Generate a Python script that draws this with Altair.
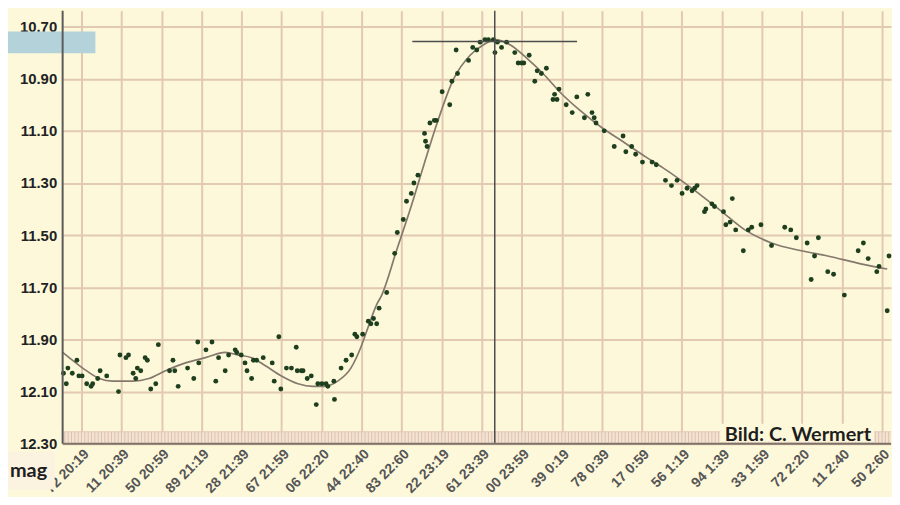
import json
import altair as alt
import pandas as pd

# ---------------- data ----------------
time_labels = ["72 20:19", "11 20:39", "50 20:59", "89 21:19", "28 21:39", "67 21:59",
               "06 22:20", "44 22:40", "83 22:60", "22 23:19", "61 23:39", "00 23:59",
               "39 0:19", "78 0:39", "17 0:59", "56 1:19", "94 1:39", "33 1:59",
               "72 2:20", "11 2:40", "50 2:60"]
tick_minutes = [i * 20 for i in range(len(time_labels))]
mag_ticks = [10.70, 10.90, 11.10, 11.30, 11.50, 11.70, 11.90, 12.10, 12.30]

# observations: minutes after the 20:19 grid line, magnitude
pt_t = [-9.0, -7.6, -6.8, -4.6, -2.3, -1.3, 0.3, 2.6, 4.8, 5.6,
        8.1, 9.3, 12.6, 18.5, 19.2, 22.2, 23.5, 25.8, 27.1, 27.9,
        29.6, 31.8, 32.9, 34.6, 37.1, 38.4, 44.0, 45.7, 46.6, 48.3,
        53.0, 56.1, 58.1, 58.6, 62.2, 65.2, 67.1, 68.5, 71.8, 73.5,
        76.8, 77.6, 79.8, 81.7, 82.7, 85.0, 85.9, 87.5, 90.8, 95.3,
        96.3, 98.6, 99.6, 102.4, 104.9, 107.3, 107.8, 109.8, 110.7, 112.8,
        114.8, 117.3, 118.1, 120.1, 122.2, 123.1, 126.1, 126.4, 129.7, 132.2,
        135.0, 136.6, 137.6, 140.5, 143.3, 144.6, 145.9, 147.5, 148.7, 152.5,
        156.5, 157.8, 160.8, 162.4, 164.8, 166.1, 168.1, 171.4, 171.9, 172.7,
        174.1, 176.3, 177.3, 180.2, 184.0, 185.1, 187.9, 187.2, 193.4, 195.5,
        197.5, 199.2, 201.6, 203.3, 205.8, 206.6, 207.8, 209.9, 212.4, 216.5,
        218.2, 219.9, 221.0, 223.7, 226.5, 227.7, 229.8, 232.3, 235.6, 236.4,
        237.6, 238.6, 242.2, 245.2, 247.5, 251.3, 253.0, 255.1, 256.2, 257.1,
        261.2, 266.2, 270.6, 272.0, 274.9, 276.9, 280.3, 285.1, 287.2, 291.8,
        294.8, 297.6, 300.1, 302.6, 305.1, 306.4, 307.6, 311.3, 312.0, 315.0,
        316.3, 320.8, 322.0, 324.1, 325.2, 326.9, 330.7, 333.2, 334.9, 339.5,
        344.8, 351.4, 354.4, 357.2, 362.6, 364.6, 366.3, 368.2, 372.9, 375.8,
        381.2, 388.1, 390.7, 393.1, 397.4, 398.5, 402.6, 403.5]
pt_m = [12.03, 12.07, 12.01, 12.03, 11.98, 12.04, 12.04, 12.07, 12.08, 12.07,
        12.05, 12.02, 12.04, 12.10, 11.96, 11.97, 11.96, 12.03, 12.05, 12.01,
        12.02, 11.97, 11.98, 12.09, 12.07, 11.92, 12.02, 11.98, 12.02, 12.08,
        12.01, 12.05, 11.91, 11.99, 11.94, 11.91, 12.06, 11.97, 12.02, 11.96,
        11.94, 11.95, 11.96, 11.99, 12.02, 12.05, 11.98, 11.98, 11.97, 11.99,
        12.06, 11.89, 12.09, 12.01, 12.01, 11.93, 12.02, 12.02, 12.02, 12.05,
        12.04, 12.15, 12.07, 12.07, 12.07, 12.08, 12.06, 12.13, 12.01, 11.98,
        11.96, 11.88, 11.89, 11.88, 11.83, 11.84, 11.82, 11.84, 11.78, 11.72,
        11.57, 11.49, 11.44, 11.37, 11.34, 11.30, 11.27, 11.11, 11.14, 11.16,
        11.07, 11.06, 11.06, 10.95, 11.00, 10.91, 10.88, 10.79, 10.83, 10.78,
        10.79, 10.76, 10.75, 10.75, 10.75, 10.80, 10.76, 10.78, 10.76, 10.80,
        10.84, 10.84, 10.84, 10.81, 10.91, 10.87, 10.88, 10.86, 10.98, 10.96,
        10.98, 10.94, 11.00, 11.03, 10.97, 11.05, 10.96, 11.03, 11.05, 11.07,
        11.10, 11.16, 11.12, 11.18, 11.16, 11.19, 11.22, 11.22, 11.23, 11.29,
        11.31, 11.29, 11.34, 11.32, 11.33, 11.32, 11.31, 11.41, 11.40, 11.38,
        11.39, 11.41, 11.46, 11.45, 11.36, 11.48, 11.56, 11.48, 11.47, 11.46,
        11.54, 11.47, 11.48, 11.51, 11.53, 11.67, 11.58, 11.51, 11.64, 11.65,
        11.73, 11.56, 11.53, 11.59, 11.64, 11.62, 11.79, 11.58]

# smoothed light curve
curve_t = [-9.4, 0.6, 8.9, 15.5, 25.5, 33.7, 42.0, 52.0, 61.9, 71.8,
           78.4, 85.0, 91.7, 99.9, 108.2, 115.6, 121.4, 128.0, 134.6, 139.6,
           142.9, 147.9, 149.4, 157.8, 164.3, 171.1, 177.7, 186.0, 194.2, 200.9,
           206.6, 214.1, 222.3, 230.6, 238.9, 248.8, 260.4, 270.3, 281.9, 290.2,
           306.7, 320.0, 331.5, 344.8, 359.7, 372.9, 389.4, 402.6]
curve_m = [11.95, 12.01, 12.05, 12.06, 12.06, 12.05, 12.02, 11.99, 11.97, 11.95,
           11.96, 11.97, 12.00, 12.04, 12.07, 12.08, 12.08, 12.06, 12.01, 11.93,
           11.86, 11.76, 11.74, 11.55, 11.40, 11.23, 11.07, 10.90, 10.81, 10.77,
           10.75, 10.77, 10.82, 10.88, 10.95, 11.02, 11.09, 11.14, 11.20, 11.24,
           11.33, 11.41, 11.48, 11.53, 11.56, 11.58, 11.61, 11.63]

# maximum cross-hair
peak_t = [206.5]
peak_m = [10.757]
peak_span = [165.3, 247.6]

# ---------------- styling ----------------
BG = "#fdf8da"
GRID = "#e2c9b1"
W, H = 834, 436

x_scale = alt.Scale(domain=[-9.43, 404.5], nice=False, zero=False)
y_scale = alt.Scale(domain=[10.639, 12.30], reverse=True, nice=False, zero=False)

label_expr = json.dumps(time_labels) + "[round(datum.value / 20)]"
x_axis = alt.Axis(values=tick_minutes, labelExpr=label_expr, labelAngle=315,
                  labelFontSize=14, labelFontWeight="bold", labelColor="#555555",
                  labelFont="Liberation Sans", ticks=False, domain=False,
                  grid=True, gridColor=GRID, gridWidth=2, title=None,
                  labelPadding=3, labelOverlap=False)
y_axis = alt.Axis(values=mag_ticks, format=".2f", labelFontSize=15,
                  labelFontWeight="bold", labelColor="#222222",
                  labelFont="Liberation Sans", ticks=False, domain=False,
                  grid=True, gridColor=GRID, gridWidth=2, title=None,
                  labelPadding=6, labelOverlap=False)


def X(f):
    return alt.X(f, type="quantitative", scale=x_scale, axis=x_axis)


def Y(f):
    return alt.Y(f, type="quantitative", scale=y_scale, axis=y_axis)


one = pd.DataFrame({"a": [0]})
pts = pd.DataFrame({"t": pt_t, "m": pt_m})
crv = pd.DataFrame({"t": curve_t, "m": curve_m})

points = alt.Chart(pts).mark_circle(size=24, color="#1d3f1e", opacity=1).encode(
    x=X("t"), y=Y("m"))
curve = alt.Chart(crv).mark_line(color="#85786c", strokeWidth=1.7,
                                 interpolate="monotone").encode(x=X("t"), y=Y("m"))

band = alt.Chart(one).mark_rect(color="#f3e4d2").encode(
    x=alt.value(0), x2=alt.value(W), y=alt.value(424), y2=alt.value(436))
band_ticks = alt.Chart(alt.sequence(-8.3333, 404.5, 20 / 12, as_="t")).mark_rule(
    color="#e0c0b0", strokeWidth=1).encode(x=X("t"), y=alt.value(424), y2=alt.value(435))
band_top = alt.Chart(one).mark_rule(color="#e4c8b8", strokeWidth=1).encode(
    x=alt.value(0), x2=alt.value(W), y=alt.value(424))

vline = alt.Chart(pd.DataFrame({"t": peak_t})).mark_rule(
    color="#4d4d4d", strokeWidth=1.5).encode(x=X("t"), y=alt.value(0), y2=alt.value(H))
hline = alt.Chart(pd.DataFrame({"t": [peak_span[0]], "t2": [peak_span[1]], "m": peak_m})).mark_rule(
    color="#4d4d4d", strokeWidth=1.5).encode(x=X("t"), x2="t2", y=Y("m"))

blue = alt.Chart(one).mark_rect(color="#b4d2da").encode(
    x=alt.value(-55), x2=alt.value(33), y=alt.value(21), y2=alt.value(43))
y_line = alt.Chart(one).mark_rule(color="#5a5a5a", strokeWidth=2).encode(
    x=alt.value(0), y=alt.value(0), y2=alt.value(H))
x_line = alt.Chart(one).mark_rule(color="#7d7268", strokeWidth=2).encode(
    x=alt.value(0), x2=alt.value(W), y=alt.value(H))

bild_bg = alt.Chart(one).mark_rect(color=BG).encode(
    x=alt.value(662), x2=alt.value(817), y=alt.value(416), y2=alt.value(434))
bild = alt.Chart(one).mark_text(text="Bild: C. Wermert", font="Lato", fontSize=20,
                                fontWeight="bold", color="#1e1e1e", align="right",
                                baseline="alphabetic").encode(
    x=alt.value(814), y=alt.value(433))

mag_box = alt.Chart(one).mark_rect(color="#fcf2e0").encode(
    x=alt.value(-55), x2=alt.value(-8), y=alt.value(444), y2=alt.value(482))
mag = alt.Chart(one).mark_text(text="mag", font="Lato", fontSize=20, fontWeight="bold",
                               color="#1e1e1e", align="left", baseline="alphabetic").encode(
    x=alt.value(-53), y=alt.value(470))

chart = alt.layer(
    band, band_ticks, band_top, blue, curve, points, vline, hline,
    y_line, x_line, bild_bg, bild, mag_box, mag
).properties(
    width=W, height=H, padding=0, background=BG
).configure_view(fill=BG, strokeOpacity=0)

chart.save("out.html", embed_options={"renderer": "svg", "actions": False})
